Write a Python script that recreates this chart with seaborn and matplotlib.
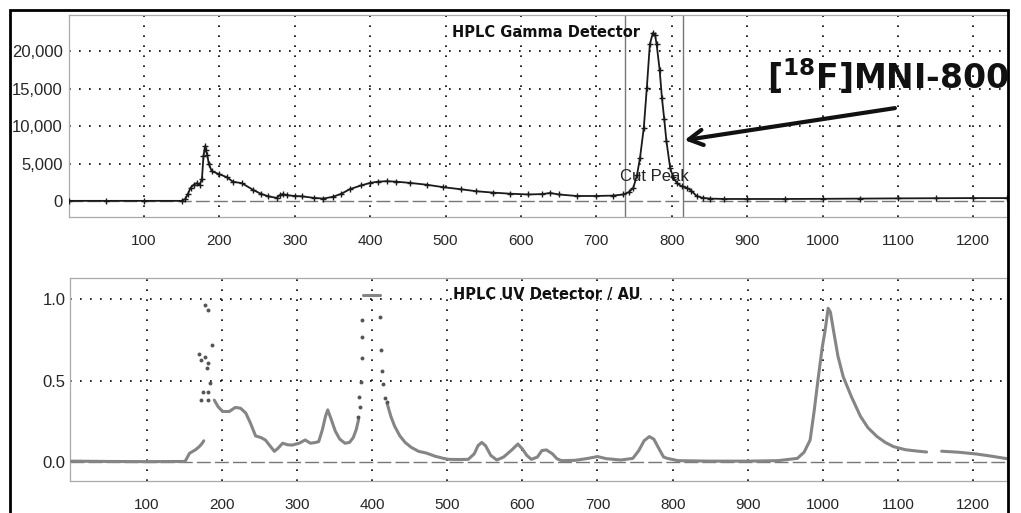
import numpy as np
import pandas as pd
import matplotlib
matplotlib.use("Agg")
import matplotlib.pyplot as plt
from matplotlib.patches import Rectangle
from matplotlib.ticker import FuncFormatter
import seaborn as sns

# ---------------- data ----------------
gamma_time = [0, 50, 100, 150, 155, 158, 162, 166, 170, 174, 177, 179, 181, 182, 184, 186,
              190, 200, 210, 218, 230, 245, 255, 265, 276, 280, 284, 290, 300, 310, 325,
              338, 351, 362, 373, 388, 400, 410, 422, 435, 453, 475, 497, 520, 541, 563,
              586, 610, 628, 639, 650, 674, 700, 722, 736, 743, 749, 754, 758, 763, 767,
              771, 775, 778, 780, 784, 787, 790, 793, 798, 802, 807, 813, 820, 826, 833,
              841, 851, 870, 900, 950, 1000, 1050, 1100, 1150, 1200, 1245]
gamma_counts = [50, 50, 50, 50, 300, 900, 1800, 2200, 2400, 2200, 3000, 6000, 7300, 6800, 6200, 5000,
                4000, 3600, 3200, 2600, 2400, 1500, 1000, 650, 450, 800, 950, 800, 700, 650, 450,
                350, 600, 1000, 1600, 2100, 2440, 2600, 2670, 2600, 2440, 2200, 1870, 1600, 1330, 1150,
                1000, 900, 950, 1100, 900, 700, 700, 750, 900, 1200, 1780, 3500, 5800, 9800, 15100,
                20900, 22400, 22100, 20900, 17500, 13800, 11000, 8000, 4400, 3200, 2400, 2000, 1800, 1400, 700,
                450, 350, 300, 300, 300, 320, 350, 380, 400, 420, 420]

# UV trace, continuous segments
uv_seg0_time = [0, 50, 100, 150, 152, 157, 165, 170, 174, 176]
uv_seg0_abs = [0.005, 0.003, 0.002, 0.003, 0.01, 0.053, 0.075, 0.094, 0.115, 0.13]
uv_seg1_time = [190, 195, 201, 210, 218, 225, 232, 238, 245, 252, 258, 264, 270, 275, 281, 288,
                294, 303, 311, 318, 325, 329, 334, 338, 341, 345, 351, 357, 364, 370, 375, 379, 382]
uv_seg1_abs = [0.38, 0.34, 0.31, 0.31, 0.335, 0.33, 0.30, 0.24, 0.16, 0.15, 0.135, 0.10, 0.065, 0.085,
               0.115, 0.105, 0.104, 0.115, 0.135, 0.115, 0.12, 0.125, 0.2, 0.28, 0.32, 0.27, 0.19,
               0.14, 0.115, 0.12, 0.15, 0.2, 0.26]
uv_seg2_time = [388, 411]
uv_seg2_abs = [1.025, 1.025]
uv_seg3_time = [420, 425, 430, 437, 444, 452, 462, 472, 484, 495, 502, 515, 528, 536, 541, 546,
                551, 558, 566, 575, 586, 594, 600, 606, 612, 620, 626, 632, 640, 646, 652, 670,
                685, 700, 712, 731, 747, 755, 762, 769, 775, 782, 788, 793, 807, 850, 900, 940,
                966, 975, 983, 988, 994, 999, 1003, 1007, 1010, 1014, 1020, 1027, 1038, 1050,
                1060, 1072, 1083, 1094, 1110, 1125, 1138]
uv_seg3_abs = [0.36, 0.28, 0.22, 0.16, 0.12, 0.09, 0.065, 0.055, 0.035, 0.022, 0.016, 0.015, 0.016,
               0.05, 0.1, 0.12, 0.1, 0.04, 0.012, 0.03, 0.074, 0.11, 0.08, 0.04, 0.016, 0.03, 0.07,
               0.074, 0.05, 0.02, 0.008, 0.01, 0.02, 0.033, 0.02, 0.012, 0.022, 0.07, 0.13, 0.156,
               0.14, 0.08, 0.03, 0.022, 0.008, 0.005, 0.005, 0.008, 0.022, 0.06, 0.135, 0.3, 0.524,
               0.7, 0.81, 0.944, 0.92, 0.81, 0.65, 0.524, 0.4, 0.28, 0.21, 0.156, 0.12, 0.094,
               0.075, 0.067, 0.061]
uv_seg4_time = [1158, 1180, 1204, 1225, 1245]
uv_seg4_abs = [0.066, 0.06, 0.049, 0.035, 0.02]

# sparse UV points in saturated regions
uv_dot_time = [170, 177.6, 172.3, 182.1, 179.9, 175.4, 182.1, 172.8, 182.1, 177.6, 182.1, 186.5, 184.3,
               381.8, 384, 383, 385, 386.3, 386.3, 387, 410.6, 412, 413, 415, 417.5, 419.6]
uv_dot_abs = [0.664, 0.647, 0.627, 0.606, 0.576, 0.432, 0.432, 0.381, 0.381, 0.965, 0.934, 0.719, 0.484,
              0.279, 0.34, 0.40, 0.49, 0.637, 0.77, 0.873, 0.89, 0.685, 0.56, 0.48, 0.39, 0.37]

cut_lines = [738, 815]
x_ticks = [100, 200, 300, 400, 500, 600, 700, 800, 900, 1000, 1100, 1200]
gamma_yticks = [0, 5000, 10000, 15000, 20000]
uv_yticks = [0.0, 0.5, 1.0]

# ---------------- figure ----------------
sns.set_style("white")
plt.rcParams['font.family'] = ['Liberation Sans', 'DejaVu Sans']
plt.rcParams['mathtext.fontset'] = 'dejavusans'

fig = plt.figure(figsize=(10.21, 5.13), dpi=100)
W, H = 1021, 513
def ax_rect(l, r, t, b):
    return [l / W, 1 - b / H, (r - l) / W, (b - t) / H]

ax1 = fig.add_axes(ax_rect(68.5, 1008, 15, 217))
ax2 = fig.add_axes(ax_rect(70, 1007, 278, 481))

grid_kw = dict(color='black', linestyle=(0, (1, 5)), linewidth=1.2, zorder=1)
zero_kw = dict(color='#777777', linestyle=(0, (10, 3)), linewidth=1.0, zorder=1)

for ax in (ax1, ax2):
    for s in ax.spines.values():
        s.set_color('#aaaaaa')
        s.set_linewidth(0.9)
    ax.tick_params(axis='both', length=0)
    ax.set_xticks(x_ticks)
    for xt in x_ticks:
        ax.axvline(xt, **grid_kw)

# ---- gamma panel ----
ax1.set_xlim(0, 1246)
ax1.set_ylim(-2100, 24800)
for yt in gamma_yticks[1:]:
    ax1.axhline(yt, **grid_kw)
ax1.axhline(0, **zero_kw)
for c in cut_lines:
    ax1.axvline(c, color='#777777', linewidth=1.0, zorder=2)

gdf = pd.DataFrame({'time': gamma_time, 'counts': gamma_counts})
sns.lineplot(data=gdf, x='time', y='counts', ax=ax1, color='#1a1a1a', linewidth=1.3,
             marker='+', markersize=5, markeredgecolor='#1a1a1a', markeredgewidth=1.0, zorder=4)
ax1.set_yticks(gamma_yticks)
ax1.yaxis.set_major_formatter(FuncFormatter(lambda v, p: f"{v:,.0f}"))
ax1.tick_params(axis='y', labelsize=12, pad=4)
ax1.tick_params(axis='x', labelsize=11, pad=12)
ax1.set_xlabel('')
ax1.set_ylabel('')

ax1.text(508, 22530, 'HPLC Gamma Detector', family='DejaVu Sans', fontweight='bold',
         fontsize=10.5, ha='left', va='center', color='#111111', zorder=5)
ax1.text(731, 3330, 'Cut Peak', fontsize=12, ha='left', va='center', color='#222222', zorder=3)
ax1.text(927, 16600, r'[$\mathbf{^{18}}$F]MNI-800', family='DejaVu Sans', fontweight='bold',
         fontsize=23.8, ha='left', va='center', color='#111111', zorder=6, clip_on=False)
ax1.annotate('', xy=(817, 8130), xytext=(1096, 12400),
             arrowprops=dict(arrowstyle='->,head_length=1.0,head_width=0.55', color='#111111',
                             linewidth=3.0, shrinkA=0, shrinkB=0), zorder=6)

# ---- UV panel ----
ax2.set_xlim(-2, 1245)
ax2.set_ylim(-0.117, 1.13)
for yt in uv_yticks[1:]:
    ax2.axhline(yt, **grid_kw)
ax2.axhline(0, **zero_kw)

segs = [(uv_seg0_time, uv_seg0_abs), (uv_seg1_time, uv_seg1_abs), (uv_seg2_time, uv_seg2_abs),
        (uv_seg3_time, uv_seg3_abs), (uv_seg4_time, uv_seg4_abs)]
rows = []
for i, (t, a) in enumerate(segs):
    for ti, ai in zip(t, a):
        rows.append((i, ti, ai))
udf = pd.DataFrame(rows, columns=['seg', 'time', 'abs'])
sns.lineplot(data=udf, x='time', y='abs', units='seg', estimator=None, ax=ax2,
             color='#858585', linewidth=2.2, zorder=4, sort=False)
ddf = pd.DataFrame({'time': uv_dot_time, 'abs': uv_dot_abs})
sns.scatterplot(data=ddf, x='time', y='abs', ax=ax2, color='#555555', s=8, linewidth=0, zorder=4)
ax2.set_yticks(uv_yticks)
ax2.yaxis.set_major_formatter(FuncFormatter(lambda v, p: f"{v:.1f}"))
ax2.tick_params(axis='y', labelsize=12, pad=3)
ax2.tick_params(axis='x', labelsize=11, pad=12)
ax2.set_xlabel('')
ax2.set_ylabel('')
ax2.text(508, 1.026, 'HPLC UV Detector / AU', family='DejaVu Sans', fontweight='bold',
         fontsize=10.5, ha='left', va='center', color='#111111', zorder=5)

# outer frame
fig.add_artist(Rectangle((10 / W, -0.05), (1008 - 10) / W, (1 - 10 / H) + 0.05,
                         transform=fig.transFigure, fill=False, edgecolor='black',
                         linewidth=2.0, clip_on=False))

fig.savefig('out.png', dpi=100, facecolor='white')
